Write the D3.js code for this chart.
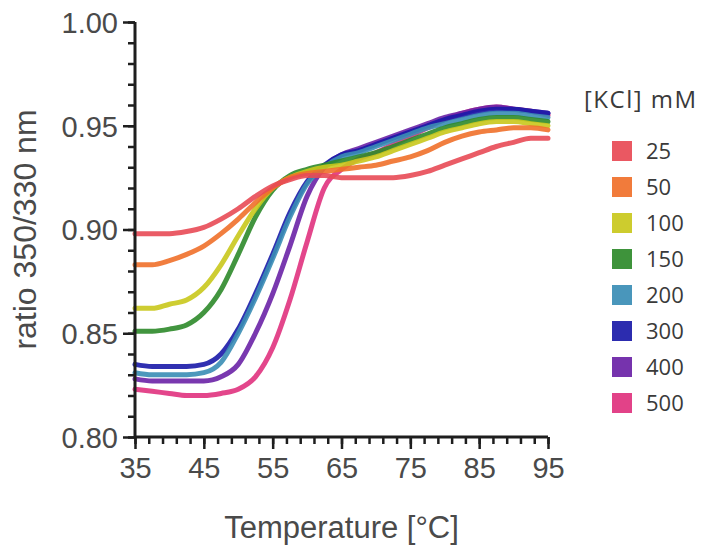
<!DOCTYPE html>
<html>
<head>
<meta charset="utf-8">
<script src="https://cdn.jsdelivr.net/npm/d3@7"></script>
<style>
  html, body { margin: 0; padding: 0; background: #ffffff; }
  svg { display: block; }
</style>
</head>
<body>
<svg id="chart" width="721" height="545"></svg>
<script>
// ---------- data ----------
const temperatures = [35, 37.5, 40, 42.5, 45, 47.5, 50, 52.5, 55, 57.5, 60, 62.5, 65,
                      67.5, 70, 72.5, 75, 77.5, 80, 82.5, 85, 87.5, 90, 92.5, 95];

const kclLabels = ["25", "50", "100", "150", "200", "300", "400", "500"];
const kclColors = ["#e84a55", "#f0702a", "#c9c81c", "#2e8a2a", "#3a8db5", "#1a1aa8", "#6a22a6", "#e0327e"];

const ratio25  = [0.898, 0.898, 0.898, 0.899, 0.901, 0.905, 0.910, 0.916, 0.921, 0.924, 0.926, 0.926, 0.925,
                  0.925, 0.925, 0.925, 0.926, 0.928, 0.931, 0.934, 0.937, 0.940, 0.942, 0.944, 0.944];
const ratio50  = [0.883, 0.883, 0.885, 0.888, 0.892, 0.898, 0.905, 0.913, 0.920, 0.925, 0.927, 0.928, 0.929,
                  0.930, 0.931, 0.933, 0.935, 0.938, 0.942, 0.945, 0.947, 0.948, 0.949, 0.949, 0.948];
const ratio100 = [0.862, 0.862, 0.864, 0.866, 0.872, 0.883, 0.897, 0.910, 0.920, 0.925, 0.928, 0.930, 0.931,
                  0.933, 0.935, 0.938, 0.941, 0.944, 0.947, 0.949, 0.951, 0.952, 0.952, 0.951, 0.950];
const ratio150 = [0.851, 0.851, 0.852, 0.854, 0.860, 0.871, 0.888, 0.906, 0.919, 0.926, 0.929, 0.931, 0.933,
                  0.935, 0.937, 0.940, 0.943, 0.946, 0.949, 0.951, 0.953, 0.954, 0.954, 0.953, 0.952];
const ratio200 = [0.831, 0.830, 0.830, 0.830, 0.831, 0.836, 0.850, 0.867, 0.886, 0.906, 0.922, 0.930, 0.935,
                  0.937, 0.940, 0.943, 0.946, 0.949, 0.951, 0.953, 0.955, 0.956, 0.956, 0.955, 0.954];
const ratio300 = [0.835, 0.834, 0.834, 0.834, 0.835, 0.840, 0.852, 0.869, 0.888, 0.908, 0.923, 0.931, 0.936,
                  0.938, 0.941, 0.944, 0.947, 0.950, 0.953, 0.955, 0.957, 0.958, 0.958, 0.957, 0.956];
const ratio400 = [0.828, 0.827, 0.827, 0.827, 0.827, 0.829, 0.835, 0.850, 0.869, 0.892, 0.916, 0.930, 0.936,
                  0.939, 0.942, 0.945, 0.948, 0.951, 0.954, 0.956, 0.958, 0.959, 0.958, 0.957, 0.956];
const ratio500 = [0.823, 0.822, 0.821, 0.820, 0.820, 0.821, 0.823, 0.829, 0.843, 0.866, 0.894, 0.920, 0.929,
                  0.934, 0.937, 0.941, 0.945, 0.949, 0.953, 0.956, 0.958, 0.959, 0.958, 0.957, 0.955];

const seriesValues = [ratio25, ratio50, ratio100, ratio150, ratio200, ratio300, ratio400, ratio500];

const xTickValues = [35, 45, 55, 65, 75, 85, 95];
const yTickValues = [0.80, 0.85, 0.90, 0.95, 1.00];

// ---------- layout ----------
const svg = d3.select("#chart");
const margin = { left: 135, top: 22, right: 173, bottom: 108 };
const W = 721, H = 545;
const innerW = W - margin.left - margin.right;   // 413
const innerH = H - margin.top - margin.bottom;   // 415

const x = d3.scaleLinear().domain([35, 95]).range([margin.left, margin.left + innerW]);
const y = d3.scaleLinear().domain([0.80, 1.00]).range([margin.top + innerH, margin.top]);

const axisColor = "#1e1e1e";
const textColor = "#4a4a4a";
const fontAxis = "'Liberation Sans', Arial, sans-serif";

// ---------- lines ----------
const line = d3.line()
  .x((d, i) => x(temperatures[i]))
  .y(d => y(d))
  .curve(d3.curveMonotoneX);

const gLines = svg.append("g");
// draw high-salt first so low-salt lies on top
for (let s = seriesValues.length - 1; s >= 0; s--) {
  gLines.append("path")
    .datum(seriesValues[s])
    .attr("d", line)
    .attr("fill", "none")
    .attr("stroke", kclColors[s])
    .attr("stroke-width", 5)
    .attr("stroke-linejoin", "round")
    .attr("stroke-linecap", "round")
    .attr("opacity", 0.9);
}

// ---------- axes ----------
const yMinor = d3.range(0.80, 1.0001, 0.01).map(v => +v.toFixed(2));
const xMinor = d3.range(35, 95.001, 2);

const gy = svg.append("g").attr("transform", `translate(${margin.left},0)`);
gy.call(d3.axisLeft(y).tickValues(yMinor).tickSize(7).tickFormat(""));
gy.select(".domain").remove();
gy.selectAll("line").attr("stroke", axisColor).attr("stroke-width", 2.5);

const gyMaj = svg.append("g").attr("transform", `translate(${margin.left},0)`);
gyMaj.call(d3.axisLeft(y).tickValues(yTickValues).tickSize(12).tickPadding(5)
  .tickFormat(d3.format(".2f")));
gyMaj.select(".domain").attr("stroke", axisColor).attr("stroke-width", 3)
  .attr("d", `M0,${y(0.80)}V${y(1.00)}`);
gyMaj.selectAll("line").attr("stroke", axisColor).attr("stroke-width", 2.5);
gyMaj.selectAll("text").attr("fill", textColor).attr("font-family", fontAxis)
  .attr("font-size", 29).attr("dy", "0.36em");

const gx = svg.append("g").attr("transform", `translate(0,${margin.top + innerH})`);
gx.call(d3.axisBottom(x).tickValues(xMinor).tickSize(7).tickFormat(""));
gx.select(".domain").remove();
gx.selectAll("line").attr("stroke", axisColor).attr("stroke-width", 2.5);

const gxMaj = svg.append("g").attr("transform", `translate(0,${margin.top + innerH})`);
gxMaj.call(d3.axisBottom(x).tickValues(xTickValues).tickSize(12).tickPadding(8)
  .tickFormat(d3.format("d")));
gxMaj.select(".domain").attr("stroke", axisColor).attr("stroke-width", 3)
  .attr("d", `M${x(35)},0H${x(95)}`);
gxMaj.selectAll("line").attr("stroke", axisColor).attr("stroke-width", 2.5);
gxMaj.selectAll("text").attr("fill", textColor).attr("font-family", fontAxis)
  .attr("font-size", 29);

// axis titles
svg.append("text")
  .attr("x", x(65)).attr("y", 538)
  .attr("text-anchor", "middle")
  .attr("fill", textColor).attr("font-family", fontAxis).attr("font-size", 31)
  .text("Temperature [°C]");

svg.append("text")
  .attr("transform", `translate(36,${(margin.top + margin.top + innerH) / 2}) rotate(-90)`)
  .attr("text-anchor", "middle")
  .attr("fill", textColor).attr("font-family", fontAxis).attr("font-size", 32)
  .text("ratio 350/330 nm");

// ---------- legend ----------
const fontLegend = "'Open Sans', 'Noto Sans', sans-serif";
svg.append("text")
  .attr("x", 584).attr("y", 108)
  .attr("fill", "#3a3a3a").attr("font-family", fontLegend).attr("font-size", 24)
  .attr("letter-spacing", 1.5)
  .text("[KCl] mM");

const leg = svg.append("g").attr("transform", "translate(612,0)");
kclLabels.forEach((lab, i) => {
  const cy = 151 + i * 36;
  leg.append("rect")
    .attr("x", 0).attr("y", cy - 10).attr("width", 20).attr("height", 20)
    .attr("fill", kclColors[i]).attr("opacity", 0.92);
  leg.append("text")
    .attr("x", 34).attr("y", cy).attr("dy", "0.36em")
    .attr("fill", "#3a3a3a").attr("font-family", fontLegend).attr("font-size", 22)
    .text(lab);
});
</script>
</body>
</html>
